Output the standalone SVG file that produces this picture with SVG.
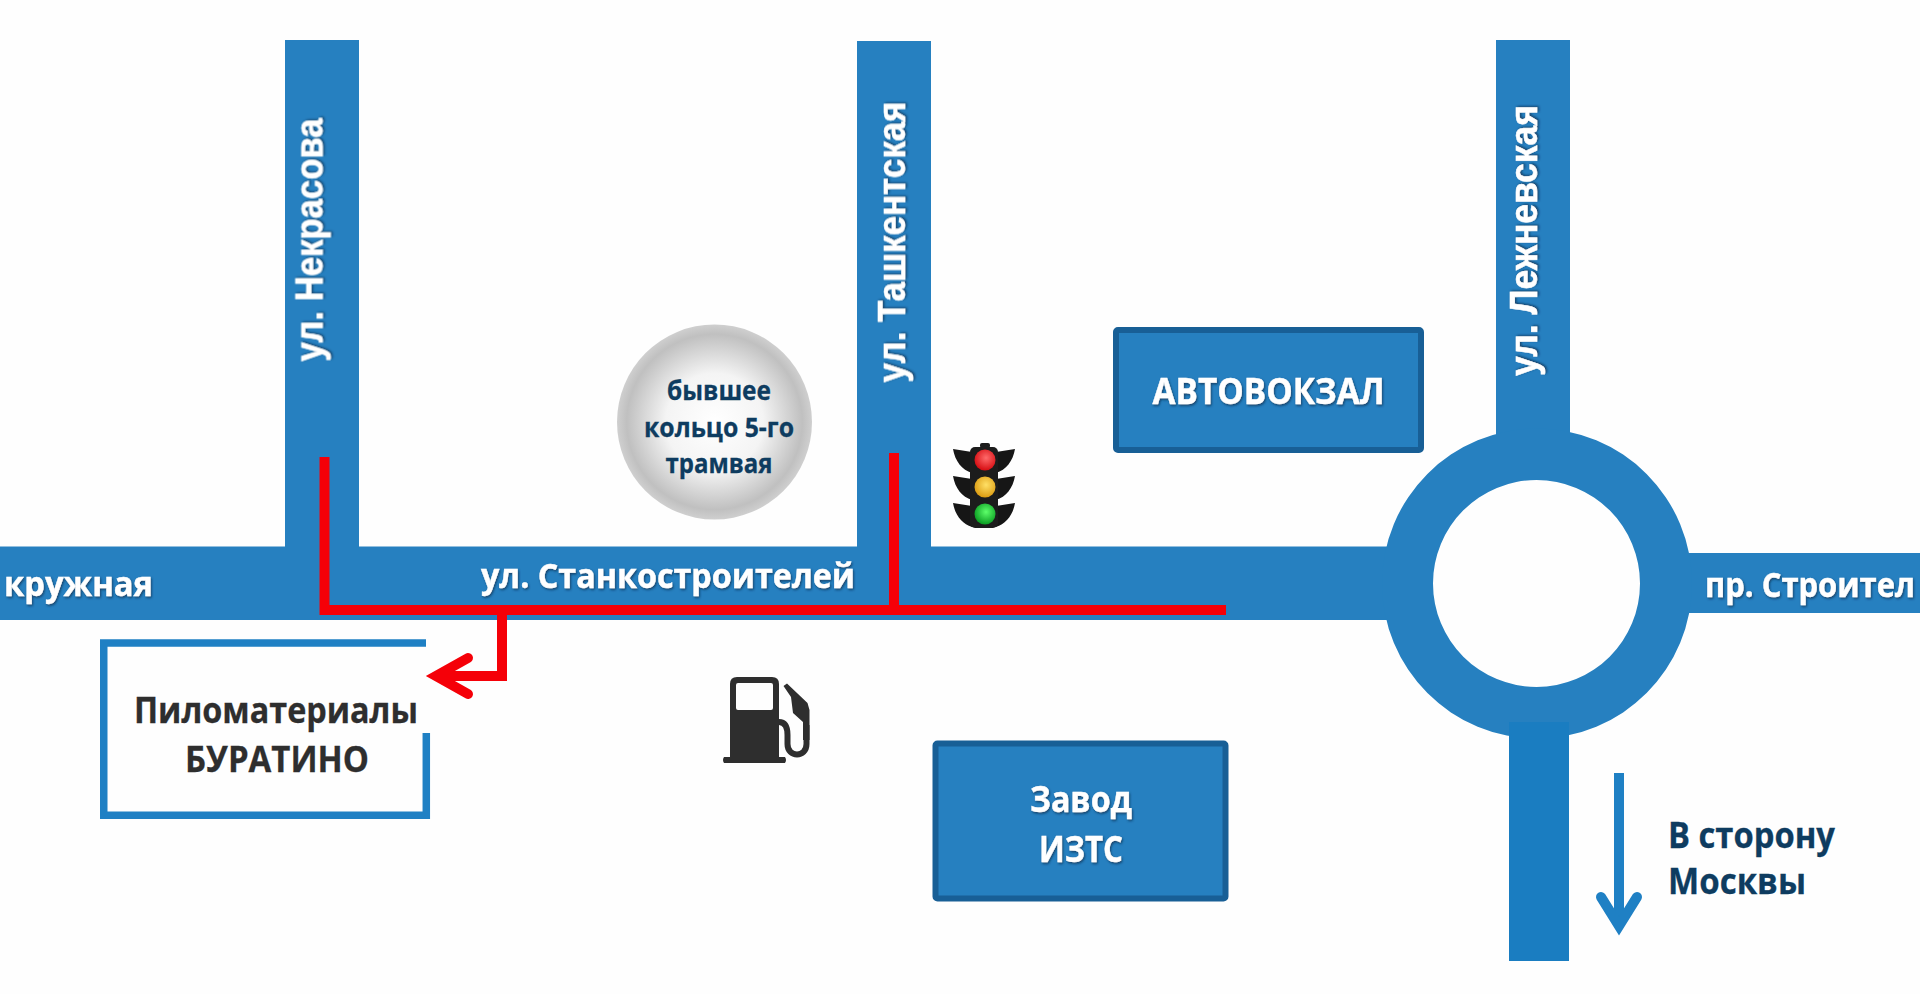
<svg xmlns="http://www.w3.org/2000/svg" width="1920" height="994" viewBox="0 0 1920 994">
<style>
.road{fill:#2680c0}
.lbl{font-family:"Open Sans","Noto Sans",sans-serif;font-weight:700}
.w{fill:#fff;stroke:#fff;stroke-width:.4;filter:url(#ts)}
.ws{font-family:"Liberation Sans",Arial,sans-serif;font-weight:700;fill:#fff;stroke:#fff;stroke-width:.5;filter:url(#ts)}
.n{fill:#0e3c60;stroke:#0e3c60;stroke-width:.3}
.k{fill:#2e2e2e;stroke:#2e2e2e;stroke-width:.3}
.box{fill:#2680c0;stroke:#185f96;stroke-width:6}
.red{fill:none;stroke:#f50008;stroke-width:10}
.blue{fill:none;stroke:#1f80c4;stroke-width:10}
</style>
<defs>
<filter id="ts" x="-5%" y="-20%" width="110%" height="140%"><feDropShadow dx="1" dy="1.5" stdDeviation="1" flood-color="#0a2f4d" flood-opacity=".75"/></filter>
<radialGradient id="disc"><stop offset="0" stop-color="#fff"/><stop offset=".5" stop-color="#f4f4f4"/><stop offset=".9" stop-color="#c0c0c0"/><stop offset=".94" stop-color="#c6c6c6"/><stop offset="1" stop-color="#cfcfcf"/></radialGradient>
<radialGradient id="lr" cx=".55" cy=".4" r=".6"><stop offset="0" stop-color="#ff6a6a"/><stop offset="1" stop-color="#d60d12"/></radialGradient>
<radialGradient id="ly" cx=".55" cy=".4" r=".6"><stop offset="0" stop-color="#ffe066"/><stop offset="1" stop-color="#dc9c12"/></radialGradient>
<radialGradient id="lg" cx=".55" cy=".4" r=".6"><stop offset="0" stop-color="#5dff6a"/><stop offset="1" stop-color="#0a9c22"/></radialGradient>
</defs>
<rect width="1920" height="994" fill="#fefefe"/>
<g id="roads">
<rect class="road" x="285" y="40" width="74" height="510"/>
<rect class="road" x="857" y="41" width="74" height="510"/>
<rect class="road" x="1496" y="40" width="74" height="400"/>
<rect class="road" x="0" y="546.500" width="1400" height="73.500"/>
<rect class="road" x="1670" y="553" width="250" height="60"/>
<path id="ring" fill="#2680c0" fill-rule="evenodd" d="M1382 583.500a155 155 0 1 0 310 0a155 155 0 1 0-310 0ZM1433 583.500a103.500 103.500 0 1 0 207 0a103.500 103.500 0 1 0-207 0Z"/>
<rect x="1509" y="722" width="60" height="239" fill="#1a7dc1"/>
</g>
<g id="road-labels">
<text class="lbl w" x="153" y="596" font-size="34" text-anchor="end" textLength="149" lengthAdjust="spacingAndGlyphs">кружная</text>
<text class="lbl w" x="481" y="588" font-size="34" textLength="374" lengthAdjust="spacingAndGlyphs">ул. Станкостроителей</text>
<text class="lbl w" x="1705" y="597" font-size="34" textLength="210" lengthAdjust="spacingAndGlyphs">пр. Строител</text>
<text class="ws" transform="translate(322.500 361.500) rotate(-90)" font-size="38" textLength="243" lengthAdjust="spacingAndGlyphs">ул. Некрасова</text>
<text class="ws" transform="translate(905 382.500) rotate(-90)" font-size="38" textLength="281" lengthAdjust="spacingAndGlyphs">ул. Ташкентская</text>
<text class="ws" transform="translate(1537 376) rotate(-90)" font-size="38" textLength="271" lengthAdjust="spacingAndGlyphs">ул. Лежневская</text>
</g>
<g id="connectors">
<path class="red" d="M324.500 457V610H1226"/>
<path class="red" d="M894 453V610"/>
<path class="red" d="M502 610V676H440"/>
<path class="red" stroke-width="12" stroke-linecap="round" d="M468 658L436 676L468 694"/>
<path class="blue" d="M1619 773V927"/>
<path class="blue" stroke-linecap="round" d="M1601 897L1619 926L1637 897"/>
</g>
<g id="node-buratino">
<path fill="none" stroke="#1f80c4" stroke-width="7.500" d="M426 643H103.750V815.300H426.300V733"/>
<text class="lbl k" x="276" y="723" font-size="36" text-anchor="middle" textLength="284" lengthAdjust="spacingAndGlyphs">Пиломатериалы</text>
<text class="lbl k" x="277" y="772" font-size="36" text-anchor="middle" textLength="184" lengthAdjust="spacingAndGlyphs">БУРАТИНО</text>
</g>
<g id="node-tram-ring">
<circle cx="714.500" cy="422" r="97.500" fill="url(#disc)"/>
<text class="lbl n" x="719" y="400" font-size="27" text-anchor="middle" textLength="104" lengthAdjust="spacingAndGlyphs">бывшее</text>
<text class="lbl n" x="719" y="437" font-size="27" text-anchor="middle" textLength="150" lengthAdjust="spacingAndGlyphs">кольцо 5-го</text>
<text class="lbl n" x="719" y="473" font-size="27" text-anchor="middle" textLength="107" lengthAdjust="spacingAndGlyphs">трамвая</text>
</g>
<g id="node-traffic-light">
<path fill="#161616" d="M972 452L953 449C955 461 962 470 972 473ZM996 452L1015 449C1013 461 1006 470 996 473ZM972 479L953 476C955 488 962 497 972 500ZM996 479L1015 476C1013 488 1006 497 996 500ZM972 506L953 503C955 515 962 524 972 527ZM996 506L1015 503C1013 515 1006 524 996 527Z"/>
<rect x="970" y="447" width="28" height="81" rx="5" fill="#1c1c1c"/>
<rect x="980" y="443" width="10" height="5" rx="2" fill="#1c1c1c"/>
<circle cx="985" cy="460" r="10.500" fill="url(#lr)"/>
<circle cx="985" cy="487" r="10.500" fill="url(#ly)"/>
<circle cx="985" cy="514" r="10.500" fill="url(#lg)"/>
</g>
<g id="node-fuel">
<path fill="#2e2e2e" fill-rule="evenodd" d="M737 677H772Q779 677 779 684V757H785Q787 760 785 763H724Q722 760 724 757H730V684Q730 677 737 677ZM738 683Q736 683 736 685V708Q736 710 738 710H771Q773 710 773 708V685Q773 683 771 683Z"/>
<path fill="#2e2e2e" d="M783.500 686L787 683.500L807.500 703L809.500 710V740L803 740V722L793 713L791 697Z"/>
<path fill="none" stroke="#2e2e2e" stroke-width="6" d="M779 722C785 722 787.500 727 787.500 735V744C787.500 758 806.500 758 806.500 744V725"/>
</g>
<g id="node-bus-station">
<rect class="box" x="1116" y="330" width="305" height="120" rx="2"/>
<text class="lbl w" x="1268.500" y="404" font-size="35" text-anchor="middle" textLength="232" lengthAdjust="spacingAndGlyphs">АВТОВОКЗАЛ</text>
</g>
<g id="node-factory">
<rect class="box" x="935.500" y="743.500" width="290" height="155" rx="2"/>
<text class="lbl w" x="1081" y="812" font-size="35" text-anchor="middle" textLength="102" lengthAdjust="spacingAndGlyphs">Завод</text>
<text class="lbl w" x="1081" y="862" font-size="35" text-anchor="middle" textLength="84" lengthAdjust="spacingAndGlyphs">ИЗТС</text>
</g>
<g id="moscow-label">
<text class="lbl n" x="1668" y="848" font-size="35" textLength="167" lengthAdjust="spacingAndGlyphs">В сторону</text>
<text class="lbl n" x="1668" y="894" font-size="35" textLength="138" lengthAdjust="spacingAndGlyphs">Москвы</text>
</g>
</svg>
